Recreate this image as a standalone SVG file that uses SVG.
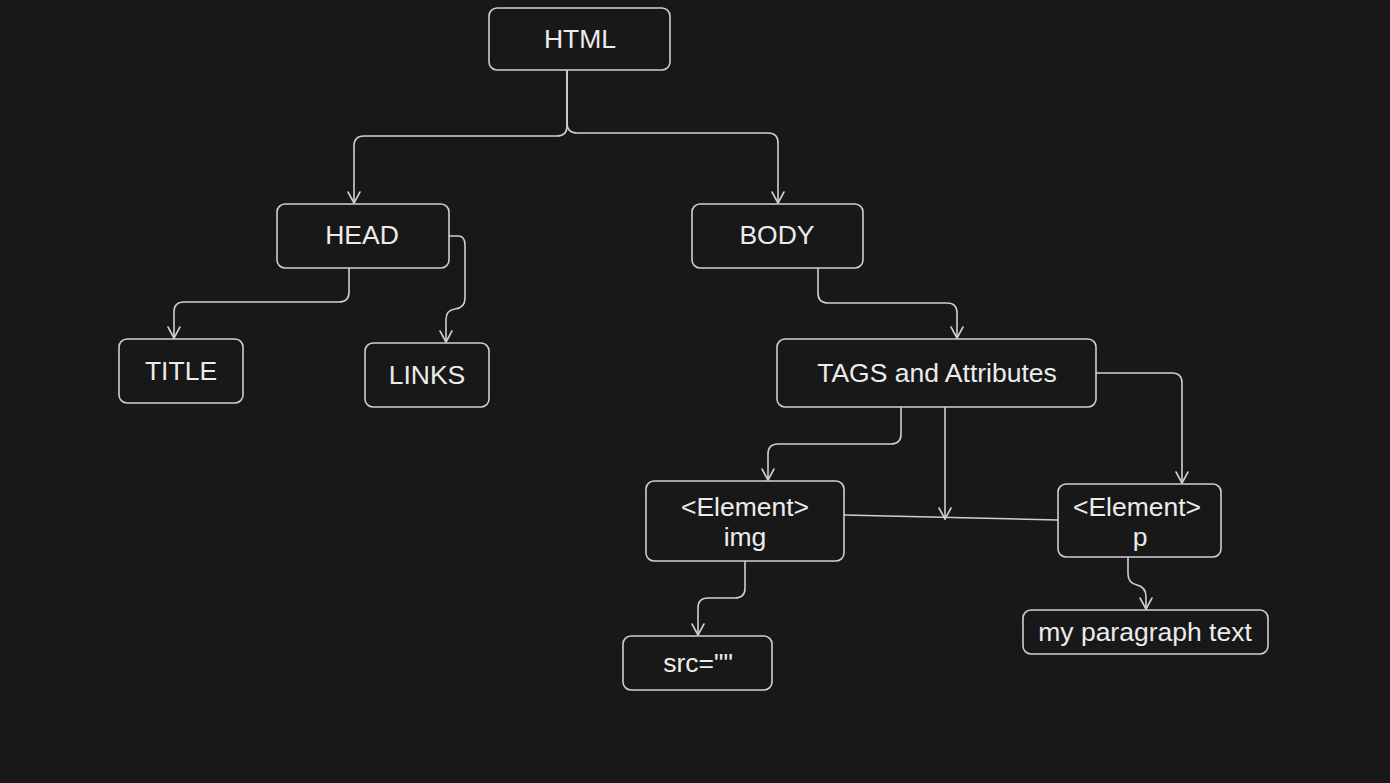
<svg xmlns="http://www.w3.org/2000/svg" width="1390" height="783" viewBox="0 0 1390 783">
<style>
.n{fill:#181818;stroke:#cfcfcf;stroke-width:1.6}
.t{font-family:"Liberation Sans",Arial,sans-serif;font-size:26.5px;fill:#ececec;text-anchor:middle;dominant-baseline:central}
.c{fill:none;stroke:#cfcfcf;stroke-width:1.6;stroke-linecap:round;stroke-linejoin:round}
</style>
<defs>
<marker id="a" viewBox="0 0 20 20" refX="18" refY="10" markerWidth="20" markerHeight="20" markerUnits="userSpaceOnUse" orient="auto">
<path d="M7 4 L18 10 L7 16" fill="none" stroke="#cfcfcf" stroke-width="1.6" stroke-linecap="round" stroke-linejoin="round"/>
</marker>
</defs>
<rect width="1390" height="783" fill="#181818"/>
<g id="connectors">
<path class="c" d="M567 70 V126 Q567 136 557 136 H364 Q354 136 354 146 V203" marker-end="url(#a)"/>
<path class="c" d="M567 70 V123 Q567 133 577 133 H768 Q778 133 778 143 V203" marker-end="url(#a)"/>
<path class="c" d="M349 268 V292 Q349 302 339 302 H184 Q174 302 174 312 V338" marker-end="url(#a)"/>
<path class="c" d="M449 236 H458 Q465 236 465 245 V298 Q465 308 455 309 Q446 310 446 320 V342" marker-end="url(#a)"/>
<path class="c" d="M818 268 V293 Q818 303 828 303 H947 Q957 303 957 313 V338" marker-end="url(#a)"/>
<path class="c" d="M901 407 V434 Q901 444 891 444 H778 Q768 444 768 454 V480" marker-end="url(#a)"/>
<path class="c" d="M945 407 V519" marker-end="url(#a)"/>
<path class="c" d="M844 515 L1058 520"/>
<path class="c" d="M1096 373 H1172 Q1182 373 1182 383 V483" marker-end="url(#a)"/>
<path class="c" d="M745 561 V588 Q745 598 735 598 H708 Q698 598 698 608 V635" marker-end="url(#a)"/>
<path class="c" d="M1128 557 V574 Q1128 583 1137 585 Q1146 587 1146 597 V609" marker-end="url(#a)"/>
</g>
<g id="html"><rect class="n" x="489" y="8" width="181" height="62" rx="8"/><text class="t" x="580" y="39">HTML</text></g>
<g id="head"><rect class="n" x="277" y="204" width="172" height="64" rx="8"/><text class="t" x="362" y="235">HEAD</text></g>
<g id="body"><rect class="n" x="692" y="204" width="171" height="64" rx="8"/><text class="t" x="777" y="235">BODY</text></g>
<g id="title"><rect class="n" x="119" y="339" width="124" height="64" rx="8"/><text class="t" x="181" y="371">TITLE</text></g>
<g id="links"><rect class="n" x="365" y="343" width="124" height="64" rx="8"/><text class="t" x="427" y="375">LINKS</text></g>
<g id="tags"><rect class="n" x="777" y="339" width="319" height="68" rx="8"/><text class="t" x="937" y="373">TAGS and Attributes</text></g>
<g id="img"><rect class="n" x="646" y="481" width="198" height="80" rx="8"/><text class="t" x="745" y="507">&lt;Element&gt;</text><text class="t" x="745" y="537">img</text></g>
<g id="p"><rect class="n" x="1058" y="484" width="163" height="73" rx="8"/><text class="t" x="1137" y="507">&lt;Element&gt;</text><text class="t" x="1140" y="537">p</text></g>
<g id="src"><rect class="n" x="623" y="636" width="149" height="54" rx="8"/><text class="t" x="698" y="663">src=""</text></g>
<g id="ptext"><rect class="n" x="1023" y="610" width="245" height="44" rx="8"/><text class="t" x="1145" y="632">my paragraph text</text></g>
</svg>
